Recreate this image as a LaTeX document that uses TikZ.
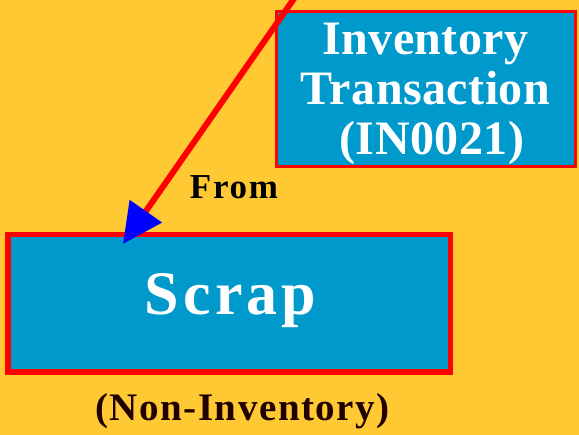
\documentclass[tikz,border=0pt]{standalone}
\usepackage{fontspec}
\setmainfont{Liberation Serif}
\usetikzlibrary{arrows.meta}
\definecolor{bgc}{HTML}{FFC933}
\definecolor{boxc}{HTML}{0099CC}
\definecolor{redc}{HTML}{FF0000}
\definecolor{tipc}{HTML}{0000FF}
\definecolor{brownc}{HTML}{200000}
\tikzset{
  box/.style={draw=redc, fill=boxc, text=white, inner sep=0pt, align=center},
  lbl/.style={inner sep=0pt, anchor=base, font=\bfseries},
}
\begin{document}
\begin{tikzpicture}[x=1pt,y=-1pt]
\fill[bgc] (0,0) rectangle (579,435);
\useasboundingbox (0,0) rectangle (579,435);
\node[box, line width=3pt, minimum width=299pt, minimum height=155pt] (inv) at (426,89) {};
\node[inner sep=0pt, align=center, text=white,
  font=\fontsize{48}{50}\selectfont\bfseries\addfontfeature{LetterSpace=1}] (invtext) at (425.5,94)
  {Inventory\\Transaction\\\ (IN0021)};
\node[box, line width=5.5pt, minimum width=442.5pt, minimum height=137.5pt] (scrap) at (229,303.5) {};
\node[lbl, text=white, font=\fontsize{62}{64}\selectfont\bfseries\addfontfeature{LetterSpace=6.5}] (scraptext) at (230.5,315) {Scrap};
\node[lbl, font=\fontsize{35}{36}\selectfont\bfseries\addfontfeature{LetterSpace=5}] (from) at (234,199) {From};
\node[lbl, text=brownc, font=\fontsize{39}{40}\selectfont\bfseries\addfontfeature{LetterSpace=4}] (non) at (242.5,421) {(Non-Inventory)};
\coordinate (src) at (300,-10);
\coordinate (dst) at (123,244);
\draw[redc, line width=6pt, -{Triangle[length=40pt,width=38pt,fill=tipc,color=tipc]}] (src) -- (dst);
\end{tikzpicture}
\end{document}
